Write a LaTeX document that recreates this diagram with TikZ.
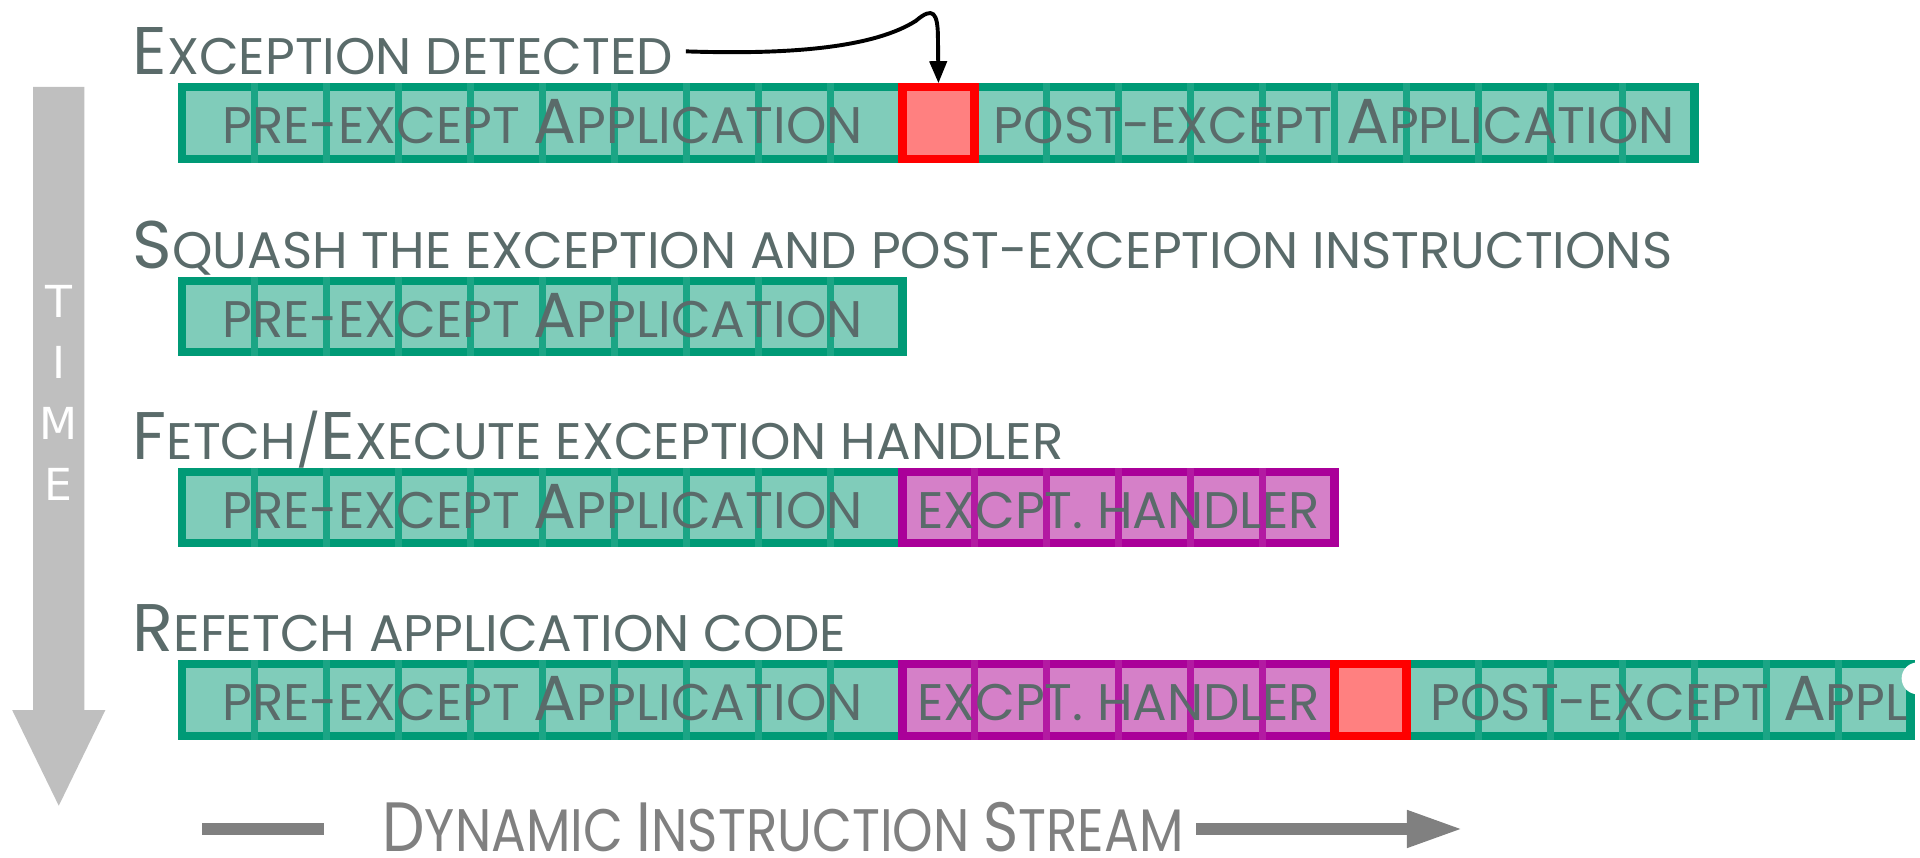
\documentclass[tikz,border=0pt]{standalone}
\usepackage{fontspec}
\setmainfont{Poppins}
\newfontfamily\labfont{Poppins}[FakeStretch=1.0]
\newfontfamily\barfont{Poppins}[FakeStretch=1.0]
\newfontfamily\streamfont{Poppins}[FakeStretch=0.86]
\newfontfamily\timefont{DejaVu Sans}
\usetikzlibrary{arrows.meta}

\definecolor{tealline}{HTML}{009A76}
\definecolor{tealfill}{HTML}{80CCBA}
\definecolor{tealdiv}{HTML}{1BA585}
\definecolor{redline}{HTML}{FF0000}
\definecolor{redfill}{HTML}{FF8080}
\definecolor{magline}{HTML}{AA0099}
\definecolor{magfill}{HTML}{D580C8}
\definecolor{magdiv}{HTML}{B31AA2}
\definecolor{labelgray}{HTML}{5A6B6A}
\definecolor{streamgray}{HTML}{808080}
\definecolor{timegray}{HTML}{BFBFBF}

\def\CellW{58.8}
\def\BarH{58.5}
\def\BarL{149}
\def\LabX{108}

\newcommand\BigLab{\fontsize{27.5}{27.5}\selectfont}
\newcommand\BigBar{\fontsize{26}{26}\selectfont}
\newcommand\BigStr{\fontsize{28.5}{28.5}\selectfont}

\tikzset{
  tealbar/.style={fill=tealfill, draw=tealline, line width=3.3pt},
  tealsep/.style={draw=tealdiv, line width=2.6pt},
  magbar/.style={fill=magfill, draw=magline, line width=3.3pt},
  magsep/.style={draw=magdiv, line width=2.6pt},
  hitbox/.style={rectangle, fill=redfill, draw=redline, line width=3.3pt,
    minimum width=29.4pt, minimum height=29.25pt, inner sep=0pt},
  steplabel/.style={anchor=base west, text=labelgray, inner sep=0pt,
    font=\labfont\fontsize{21}{21}\selectfont},
  bartext/.style={anchor=base, text=labelgray, inner sep=0pt,
    font=\barfont\fontsize{21}{21}\selectfont},
  streamtext/.style={anchor=base west, text=streamgray, inner sep=0pt,
    font=\streamfont\fontsize{24.5}{24.5}\selectfont},
  streamline/.style={draw=streamgray, line width=5pt},
  detarrow/.style={draw=black, line width=1.6pt, -{Triangle[length=9pt, width=7pt]}},
  timetext/.style={text=white, align=center, inner sep=0pt,
    font=\timefont\fontsize{18}{25}\selectfont},
}

% bar of cells: style, first cell, outer top, number of cells, divider style
\newcommand\CellRow[5]{%
  \draw[#1] (\BarL+#2*\CellW,#3+3.25) rectangle ++(#4*\CellW,\BarH);
  \pgfmathtruncatemacro\lastdiv{#4-1}
  \foreach \k in {1,...,\lastdiv}
    \draw[#5] (\BarL+#2*\CellW+\k*\CellW,#3) -- ++(0,65);
}

\begin{document}
\begin{tikzpicture}[x=0.5pt,y=-0.5pt]
\useasboundingbox (0,0) rectangle (1568,700);

% time arrow
\fill[timegray] (27,71) -- (69,71) -- (69,580) -- (86,580) -- (48,658)
  -- (10,580) -- (27,580) -- cycle;
\node[timetext] (time) at (48,321) {T\\I\\M\\E};

% exception detected
\node[steplabel] (detect) at (\LabX,61) {{\BigLab E}XCEPTION DETECTED};
\CellRow{tealbar}{0}{68}{10}{tealsep}
\CellRow{tealbar}{11}{68}{10}{tealsep}
\node[hitbox] (hit1) at (\BarL+10.5*\CellW,100.5) {};
\node[bartext] (pre1) at (\BarL+5*\CellW,117.5) {PRE-EXCEPT {\BigBar A}PPLICATION};
\node[bartext] (post1) at (\BarL+16*\CellW,117.5) {POST-EXCEPT {\BigBar A}PPLICATION};
\coordinate (bend) at (748,17);
\draw[detarrow] ([xshift=5pt]detect.east) .. controls (650,45) and (715,38) .. (bend)
  .. controls (762,5) and (766,10) .. (766,32) -- (hit1.north);

% squash
\node[steplabel] (squash) at (\LabX,219) {{\BigLab S}QUASH THE EXCEPTION AND POST-EXCEPTION INSTRUCTIONS};
\CellRow{tealbar}{0}{226}{10}{tealsep}
\node[bartext] (pre2) at (\BarL+5*\CellW,275.5) {PRE-EXCEPT {\BigBar A}PPLICATION};

% handler
\node[steplabel] (fetch) at (\LabX,375) {{\BigLab F}ETCH/{\BigLab E}XECUTE EXCEPTION HANDLER};
\CellRow{tealbar}{0}{382}{10}{tealsep}
\CellRow{magbar}{10}{382}{6}{magsep}
\node[bartext] (pre3) at (\BarL+5*\CellW,431.5) {PRE-EXCEPT {\BigBar A}PPLICATION};
\node[bartext] (hdl3) at (\BarL+13*\CellW,431.5) {EXCPT. HANDLER};

% refetch
\node[steplabel] (refetch) at (\LabX,532) {{\BigLab R}EFETCH APPLICATION CODE};
\CellRow{tealbar}{0}{539}{10}{tealsep}
\CellRow{magbar}{10}{539}{6}{magsep}
\CellRow{tealbar}{17}{539}{7}{tealsep}
\node[hitbox] (hit4) at (\BarL+16.5*\CellW,571.5) {};
\fill[white] (1566,554) circle[radius=13];
\node[bartext] (pre4) at (\BarL+5*\CellW,588.5) {PRE-EXCEPT {\BigBar A}PPLICATION};
\node[bartext] (hdl4) at (\BarL+13*\CellW,588.5) {EXCPT. HANDLER};
\begin{scope}
  \clip (1150,530) rectangle (1559,610);
  \node[bartext, anchor=base west] (post4) at (1168,588.5) {POST-EXCEPT {\BigBar A}PPLI};
\end{scope}

% dynamic instruction stream
\coordinate (sl) at (165,677);
\coordinate (sr) at (1195,677);
\node[streamtext] (stream) at (312,695) {{\BigStr D}YNAMIC {\BigStr I}NSTRUCTION {\BigStr S}TREAM};
\draw[streamline] (sl) -- (sl -| 265,0);
\draw[streamline, -{Triangle[length=23pt, width=14pt]}] ([xshift=5pt]stream.east |- sr) -- (sr);
\end{tikzpicture}
\end{document}
